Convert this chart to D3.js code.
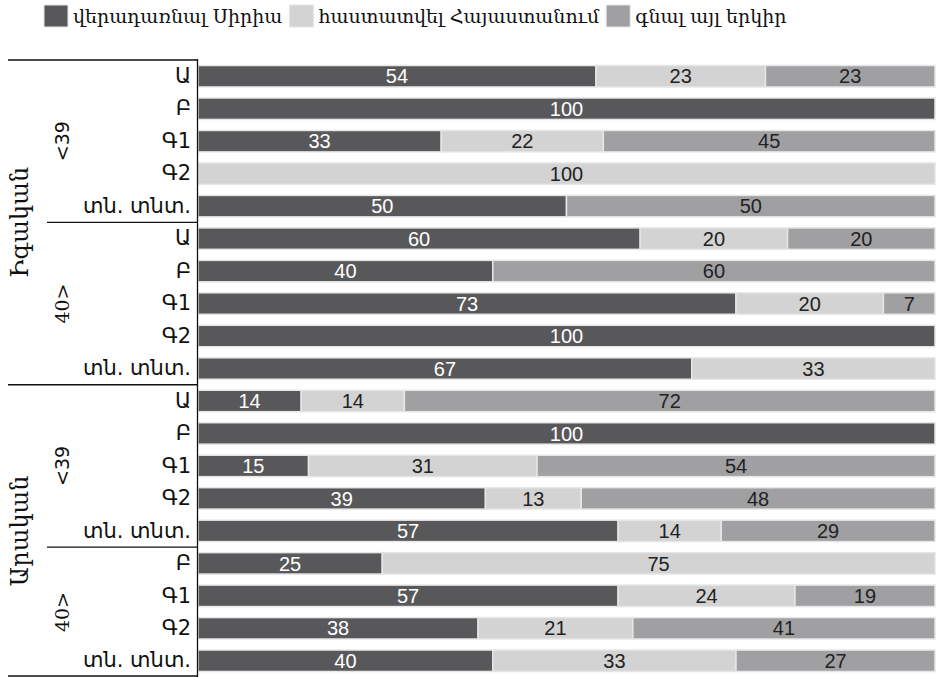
<!DOCTYPE html>
<html>
<head>
<meta charset="utf-8">
<script src="https://cdn.jsdelivr.net/npm/d3@7"></script>
<style>
body { margin: 0; background: #fff; }
svg { display: block; }
</style>
</head>
<body>
<svg width="936" height="677"></svg>
<script>
// data
var seriesNames = ["վերադառնալ Սիրիա", "հաստատվել Հայաստանում", "գնալ այլ երկիր"];
var colors = ["#58585a", "#d3d3d3", "#a0a0a2"];
var textColors = ["#ffffff", "#222222", "#222222"];

var genders = ["Իգական", "Արական"];
var ages = ["<39", "40>"];
var categories = ["Ա", "Բ", "Գ1", "Գ2", "տն. տնտ.",
                  "Ա", "Բ", "Գ1", "Գ2", "տն. տնտ.",
                  "Ա", "Բ", "Գ1", "Գ2", "տն. տնտ.",
                  "Բ", "Գ1", "Գ2", "տն. տնտ."];
// how many rows each age group / gender covers
var ageGroupSizes = [5, 5, 5, 4];
var genderGroupSizes = [10, 9];

var syria   = [54, 100, 33, 0, 50, 60, 40, 73, 100, 67, 14, 100, 15, 39, 57, 25, 57, 38, 40];
var armenia = [23, 0, 22, 100, 0, 20, 0, 20, 0, 33, 14, 0, 31, 13, 14, 75, 24, 21, 33];
var other   = [23, 0, 45, 0, 50, 20, 60, 7, 0, 0, 72, 0, 54, 48, 29, 0, 19, 41, 27];

var svg = d3.select("svg");

var rows = categories.map(function(c, i){ return i; });
var y = d3.scaleBand().domain(rows).range([60, 677]).paddingInner(0.34).paddingOuter(0.17);
var x = d3.scaleLinear().domain([0, 100]).range([198, 935]);

var values = [syria, armenia, other];
var segs = [];
rows.forEach(function(i){
  var start = 0;
  for (var s = 0; s < 3; s++) {
    var v = values[s][i];
    if (v > 0) segs.push({row: i, s: s, x0: start, x1: start + v, v: v});
    start += v;
  }
});

// bars
svg.append("g").selectAll("rect").data(segs).enter()
  .append("rect")
  .attr("x", function(d){ return x(d.x0); })
  .attr("y", function(d){ return y(d.row); })
  .attr("width", function(d){ return x(d.x1) - x(d.x0); })
  .attr("height", y.bandwidth())
  .attr("fill", function(d){ return colors[d.s]; })
  .attr("stroke", "#e6e6e6")
  .attr("stroke-width", 1.5);

svg.append("g").selectAll("text").data(segs).enter()
  .append("text")
  .attr("x", function(d){ return (x(d.x0) + x(d.x1)) / 2; })
  .attr("y", function(d){ return y(d.row) + y.bandwidth() / 2; })
  .attr("dy", "0.36em")
  .attr("text-anchor", "middle")
  .attr("font-family", "Liberation Sans, Arial, sans-serif")
  .attr("font-size", 20)
  .attr("fill", function(d){ return textColors[d.s]; })
  .text(function(d){ return d.v; });

// left axis: category labels
var axis = d3.axisLeft(y).tickSize(0).tickPadding(6).tickFormat(function(i){ return categories[i]; });
var ag = svg.append("g").attr("transform", "translate(197,0)").call(axis);
ag.select(".domain").remove();
ag.selectAll("text")
  .attr("font-family", "DejaVu Sans, sans-serif")
  .attr("font-size", 21)
  .attr("fill", "#111");

svg.append("line").attr("x1", 197.5).attr("x2", 197.5).attr("y1", 59).attr("y2", 677)
  .attr("stroke", "#111").attr("stroke-width", 1.3);

var step = y.step();
var top0 = 60;

// age group labels and separators
var r = 0;
ageGroupSizes.forEach(function(n, k){
  var yTop = top0 + r * step, yBot = top0 + (r + n) * step;
  svg.append("text")
    .attr("transform", "translate(62," + ((yTop + yBot) / 2) + ") rotate(-90)")
    .attr("dy", "0.36em")
    .attr("text-anchor", "middle")
    .attr("font-family", k % 2 === 0 ? "DejaVu Sans, sans-serif" : "DejaVu Serif, serif")
    .attr("font-size", 19)
    .attr("fill", "#111")
    .text(ages[k % 2]);
  if (k % 2 === 0) {
    svg.append("line").attr("x1", 47).attr("x2", 197).attr("y1", yBot).attr("y2", yBot)
      .attr("stroke", "#111").attr("stroke-width", 1.3);
  }
  r += n;
});

// gender labels and separators
r = 0;
svg.append("line").attr("x1", 8).attr("x2", 197).attr("y1", top0).attr("y2", top0)
  .attr("stroke", "#111").attr("stroke-width", 1.3);
genderGroupSizes.forEach(function(n, k){
  var yTop = top0 + r * step, yBot = top0 + (r + n) * step;
  svg.append("text")
    .attr("transform", "translate(19," + ((yTop + yBot) / 2) + ") rotate(-90)")
    .attr("dy", "0.36em")
    .attr("text-anchor", "middle")
    .attr("font-family", "DejaVu Serif, serif")
    .attr("font-size", 24)
    .attr("fill", "#111")
    .text(genders[k]);
  svg.append("line").attr("x1", 8).attr("x2", 197).attr("y1", Math.min(yBot, 676)).attr("y2", Math.min(yBot, 676))
    .attr("stroke", "#111").attr("stroke-width", 1.3);
  r += n;
});

// legend
var lx = 44;
seriesNames.forEach(function(name, s){
  svg.append("rect").attr("x", lx).attr("y", 5).attr("width", 24).attr("height", 22)
    .attr("fill", colors[s]).attr("stroke", "#e6e6e6");
  var t = svg.append("text").attr("x", lx + 29).attr("y", 16).attr("dy", "0.36em")
    .attr("font-family", "DejaVu Serif, serif")
    .attr("font-size", 19)
    .attr("fill", "#111")
    .text(name);
  lx += 29 + t.node().getComputedTextLength() + 7;
});
</script>
</body>
</html>
